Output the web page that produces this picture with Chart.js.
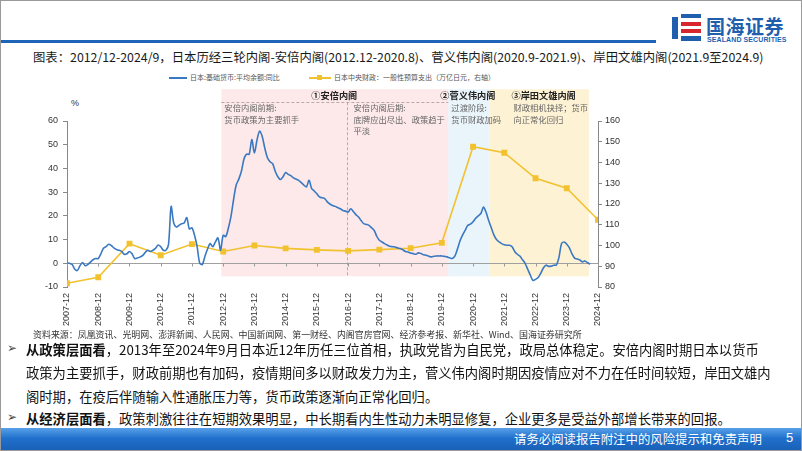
<!DOCTYPE html>
<html>
<head>
<meta charset="utf-8">
<script src="https://cdn.jsdelivr.net/npm/chart.js@4.4.0/dist/chart.umd.min.js"></script>
<style>
body { margin: 0; background: #fff; }
#slide { position: relative; width: 802px; height: 451px; overflow: hidden; background: #fff; font-family: "Noto Sans CJK SC", sans-serif; color: #1a1a1a; }
#frame { position: absolute; left: 0; top: 0; width: 800px; height: 449px; border: 1px solid #9a9a9a; pointer-events: none; }
#topline { position: absolute; left: 0; top: 40px; width: 656px; height: 3px; background: #1f65b7; }
#logo { position: absolute; left: 672px; top: 14px; }
#logoText { position: absolute; left: 706px; top: 12px; font-size: 19px; font-weight: bold; color: #1f5fae; letter-spacing: 0.5px; }
#logoSub { position: absolute; left: 707px; top: 36px; font-family: "Liberation Sans", sans-serif; font-size: 7px; font-weight: bold; color: #1f5fae; letter-spacing: 0.1px; }
#title { position: absolute; left: 33px; top: 48px; font-size: 12.35px; white-space: nowrap; }
.leg { position: absolute; top: 72px; font-size: 7px; color: #555; white-space: nowrap; }
#pct { position: absolute; left: 71px; top: 98px; font-family: "Liberation Sans", sans-serif; font-size: 9px; color: #333; }
#chartBox { position: absolute; left: 20px; top: 82px; }
#source { position: absolute; left: 33px; top: 328px; font-size: 8.95px; color: #333; white-space: nowrap; }
.line { position: absolute; left: 26px; font-size: 13.3px; white-space: nowrap; color: #111; }
.bul { position: absolute; left: 7px; font-family: "DejaVu Sans", sans-serif; font-size: 12px; color: #444; }
#footer { position: absolute; left: 0; top: 428px; width: 802px; height: 23px; background: linear-gradient(180deg, #58a0e8 0%, #1f70cc 45%, #195fb6 100%); }
#footText { position: absolute; left: 514px; top: 430px; font-size: 12.4px; color: #fff; white-space: nowrap; }
#pageNo { position: absolute; left: 786px; top: 430px; font-family: "Liberation Sans", sans-serif; font-size: 13px; color: #fff; }
</style>
</head>
<body>
<div id="slide">
  <div id="topline"></div>
  <svg id="logo" width="30" height="28" viewBox="0 0 30 28">
    <rect x="0" y="3" width="6" height="22" fill="#1f5fae"/>
    <rect x="9" y="0" width="20" height="4" fill="#1f5fae"/>
    <rect x="9" y="8" width="20" height="4" fill="#d7262e"/>
    <rect x="9" y="15" width="20" height="4" fill="#d7262e"/>
    <rect x="9" y="22" width="20" height="5" fill="#1f5fae"/>
  </svg>
  <div id="logoText">国海证券</div>
  <div id="logoSub">SEALAND SECURITIES</div>
  <div id="title">图表：2012/12-2024/9，日本历经三轮内阁-安倍内阁(2012.12-2020.8)、菅义伟内阁(2020.9-2021.9)、岸田文雄内阁(2021.9至2024.9)</div>

  <div class="leg" style="left:169px;"><span style="display:inline-block;width:18px;height:2px;background:#3a78c2;vertical-align:middle;margin-right:3px;"></span>日本:基础货币:平均余额:同比</div>
  <div class="leg" style="left:309px;"><span style="display:inline-block;position:relative;width:22px;height:2px;background:#f2c12e;vertical-align:middle;margin-right:3px;"><span style="position:absolute;left:8px;top:-2px;width:5px;height:5px;background:#f2c12e;"></span></span>日本中央财政：一般性预算支出（万亿日元，右轴）</div>

  <div id="pct">%</div>
  <div id="chartBox"><canvas id="chart" width="640" height="250"></canvas></div>

  <div id="source">资料来源：凤凰资讯、光明网、澎湃新闻、人民网、中国新闻网、第一财经、内阁官房官网、经济参考报、新华社、Wind、国海证券研究所</div>

  <div class="bul" style="top:341px;">➢</div>
  <div class="line" style="top:340px;"><b>从政策层面看</b>，2013年至2024年9月日本近12年历任三位首相，执政党皆为自民党，政局总体稳定。安倍内阁时期日本以货币</div>
  <div class="line" style="top:363px;">政策为主要抓手，财政前期也有加码，疫情期间多以财政发力为主，菅义伟内阁时期因疫情应对不力在任时间较短，岸田文雄内</div>
  <div class="line" style="top:387px;">阁时期，在疫后伴随输入性通胀压力等，货币政策逐渐向正常化回归。</div>
  <div class="bul" style="top:410px;">➢</div>
  <div class="line" style="top:409px;"><b>从经济层面看</b>，政策刺激往往在短期效果明显，中长期看内生性动力未明显修复，企业更多是受益外部增长带来的回报。</div>

  <div id="footer"></div>
  <div id="footText">请务必阅读报告附注中的风险提示和免责声明</div>
  <div id="pageNo">5</div>
  <div id="frame"></div>
</div>

<script>
// x axis: months counted from 2007-12
var tickLabels = ['2007-12','2008-12','2009-12','2010-12','2011-12','2012-12','2013-12','2014-12','2015-12',
	'2016-12','2017-12','2018-12','2019-12','2020-12','2021-12','2022-12','2023-12','2024-12'];

// 日本:基础货币:平均余额:同比 (%), monthly 2007-12 .. 2024-09
var baseMoneyYoY = [
	0.2,0,-0.5,-2.5,-3,-1,0.3,-1,-0.5,0.5,1.5,2,2,
	4,6.3,7,8,7.5,6.5,5.8,5.5,5,3.8,4,5,
	4,2,2.2,2.6,3.2,4.5,5.5,5,5.5,6.3,7.7,7,
	5.5,5.5,8,24,17,15.3,16,16.7,17,19.3,14.5,15,
	11.8,6.9,0,-0.5,3,6,8.3,7,9,10.7,5.5,11.8,
	11.3,14.9,19.8,26.9,33,35.5,38.8,44,46,46,52.2,46.5,
	52,55.7,53.5,48.5,44.5,42.8,42,38.8,36.5,35.3,36.5,38.3,
	37.5,37,36,35.5,35,34,33,32.2,35,31.5,30.5,29.3,
	28,27.6,27.3,25.9,25,24.4,24,23.5,23,22.3,22,21.6,
	23,21.8,20.5,19.5,18,16.7,16.4,16,15,13.9,11.4,9.7,
	9,8.3,7.7,7.2,7,6.9,6.5,6.2,5.7,5,4.8,4.3,
	4.1,3.8,4.4,4.1,3.6,3.4,3,2.7,3,3.1,3.1,3.1,
	2.9,2.7,2.3,2,3,6,9.5,12,14,16,16.5,17.5,
	19,20,21,23.7,21.5,18,15,12,10,9,8.3,7.8,
	7.6,7.6,7,5,3.8,3,1.5,0,-2.5,-5,-7.2,-6.8,
	-6,-4.2,-2,-0.8,-1.3,-1.2,-0.8,-0.7,2.5,8.3,9,8,
	6.5,4,2.2,1.8,1.4,0.6,1,0.2,-0.3
];

// 日本中央财政:一般性预算支出 (万亿日元), one value per December tick
var budgetSpending = [81.8,84.7,100.9,95.3,100.7,97.1,100.0,98.6,97.9,97.4,98.0,98.7,101.3,147.6,144.7,132.4,127.6,112.4];

// cabinet periods, in months from 2007-12
var periodNames = ['①安倍内阁','②菅义伟内阁','③岸田文雄内阁'];
var periodStart = [59.3, 146.5, 162.3];
var periodEnd = [146.5, 162.3, 200.5];
var abeSplit = 107.4;
var periodNotes = [
	['安倍内阁前期:','货币政策为主要抓手'],
	['过渡阶段:','货币财政加码'],
	['财政相机抉择；货币','向正常化回归']
];
var abeLateNote = ['安倍内阁后期:','底牌应出尽出、政策趋于','平淡'];

var periodColors = ['#fde9e9','#eaf4fb','#fef2d4'];
var titleOffset = [90, -8, 22];   // px from the start of each period
var noteOffset = [3, 3, 24];
var shadeTop = 73.4, shadeBottom = -5.5, headerLine = 67.9;

var periodPlugin = {
	id: 'periods',
	beforeDraw: function(chart) {
		var c = chart.ctx, xs = chart.scales.x, ys = chart.scales.y;
		var top = ys.getPixelForValue(shadeTop), bottom = ys.getPixelForValue(shadeBottom);
		var head = ys.getPixelForValue(headerLine);
		c.save();
		periodStart.forEach(function(s, i) {
			var x0 = xs.getPixelForValue(s), x1 = xs.getPixelForValue(periodEnd[i]);
			c.fillStyle = periodColors[i];
			c.fillRect(x0, top, x1 - x0, bottom - top);
		});

		// dashed header line + split of the Abe period
		var a0 = xs.getPixelForValue(periodStart[0]), a1 = xs.getPixelForValue(periodEnd[0]);
		var sp = xs.getPixelForValue(abeSplit);
		c.strokeStyle = '#b9a9a9';
		c.lineWidth = 1;
		c.setLineDash([3, 2]);
		c.beginPath();
		c.moveTo(a0, Math.round(head) + 0.5); c.lineTo(a1, Math.round(head) + 0.5);
		c.moveTo(Math.round(sp) + 0.5, head); c.lineTo(Math.round(sp) + 0.5, bottom);
		c.stroke();
		c.setLineDash([]);

		// titles
		c.fillStyle = '#222';
		c.font = 'bold 9.2px "Noto Sans CJK SC"';
		c.textAlign = 'left';
		c.textBaseline = 'middle';
		var titleY = head - 7;
		periodNames.forEach(function(n, i) {
			c.fillText(n, xs.getPixelForValue(periodStart[i]) + titleOffset[i], titleY);
		});

		// notes
		c.fillStyle = '#666';
		c.font = '8.3px "Noto Sans CJK SC"';
		var ny = head + 6;
		periodNotes.forEach(function(lines, i) {
			var x0 = xs.getPixelForValue(periodStart[i]) + noteOffset[i];
			lines.forEach(function(t, k) { c.fillText(t, x0, ny + k * 11.5); });
		});
		abeLateNote.forEach(function(t, k) { c.fillText(t, sp + 7, ny + k * 11.5); });
		c.restore();
	},
	afterDraw: function(chart) {
		var c = chart.ctx, xs = chart.scales.x, ys = chart.scales.y;
		var y0 = Math.round(ys.getPixelForValue(0)) + 0.5;
		c.save();
		c.strokeStyle = '#999';
		c.lineWidth = 1;
		c.beginPath();
		for (var m = 0; m <= 204; m += 12) {
			var px = Math.round(xs.getPixelForValue(m)) + 0.5;
			c.moveTo(px, y0); c.lineTo(px, y0 + 3);
		}
		c.stroke();
		c.restore();
	}
};

var tickFont = { family: '"Liberation Sans", Arial, sans-serif', size: 9 };

var chart = new Chart(document.getElementById('chart'), {
	type: 'line',
	data: {
		datasets: [{
			label: '日本:基础货币:平均余额:同比',
			data: baseMoneyYoY.map(function(v, i) { return { x: i, y: v }; }),
			borderColor: '#3a78c2',
			borderWidth: 1.6,
			pointRadius: 0,
			tension: 0.3,
			yAxisID: 'y'
		}, {
			label: '日本中央财政：一般性预算支出（万亿日元，右轴）',
			data: budgetSpending.map(function(v, i) { return { x: i * 12, y: v }; }),
			borderColor: '#f2c12e',
			backgroundColor: '#f2c12e',
			borderWidth: 1.6,
			pointStyle: 'rect',
			pointRadius: 3,
			tension: 0,
			yAxisID: 'y1'
		}]
	},
	options: {
		responsive: false,
		animation: false,
		devicePixelRatio: 1,
		layout: { padding: { top: 39, left: 0, right: 0, bottom: 0 } },
		plugins: { legend: { display: false }, tooltip: { enabled: false } },
		scales: {
			x: {
				type: 'linear',
				min: 0,
				max: 204,
				grid: { display: false, drawTicks: false },
				border: { display: false },
				ticks: {
					stepSize: 12,
					autoSkip: false,
					minRotation: 90,
					maxRotation: 90,
					padding: 6,
					font: tickFont,
					color: '#333',
					callback: function(v) { return tickLabels[v / 12]; }
				},
				afterFit: function(s) { s.height = 45; }
			},
			y: {
				position: 'left',
				min: -10,
				max: 60,
				grid: {
					color: function(ctx) { return ctx.tick && ctx.tick.value === 0 ? '#a0a0a0' : 'rgba(0,0,0,0)'; },
					tickColor: '#888',
					tickLength: 4
				},
				border: { display: true, color: '#888' },
				ticks: { stepSize: 10, padding: 5, font: tickFont, color: '#333' },
				afterFit: function(s) { s.width = 47; }
			},
			y1: {
				position: 'right',
				min: 80,
				max: 160,
				grid: { drawOnChartArea: false, tickColor: '#888', tickLength: 4 },
				border: { display: true, color: '#888' },
				ticks: { stepSize: 10, padding: 3, font: tickFont, color: '#333' },
				afterFit: function(s) { s.width = 62; }
			}
		}
	},
	plugins: [periodPlugin]
});
</script>
</body>
</html>
